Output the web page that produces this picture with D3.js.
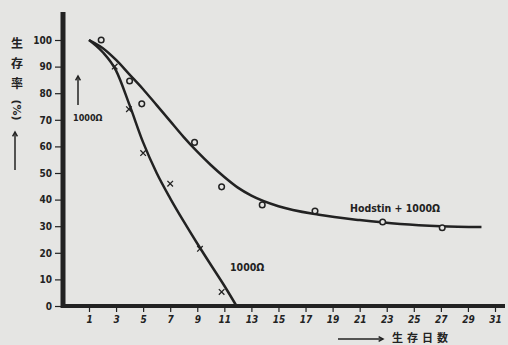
<!DOCTYPE html>
<html>
<head>
<meta charset="utf-8">
<script src="https://cdn.jsdelivr.net/npm/d3@7"></script>
<style>
  html, body { margin: 0; padding: 0; background: #e5e5e3; }
  svg { display: block; }
  text { fill: #222; }
</style>
</head>
<body>
<div id="app"></div>
<script>
const WIDTH = 508;
const HEIGHT = 345;
const INK = '#222';

// x ticks (days) and y ticks (%)
const xTicks = [1, 3, 5, 7, 9, 11, 13, 15, 17, 19, 21, 23, 25, 27, 29, 31];
const yTicks = [0, 10, 20, 30, 40, 50, 60, 70, 80, 90, 100];

// Hodstin + 1000Ω : observed points (circles) and drawn curve
const hodstinPoints = [[1.9, 100], [4, 84.6], [4.9, 76], [8.8, 61.5], [10.8, 44.8], [13.8, 38], [17.7, 35.7], [22.7, 31.6], [27.1, 29.4]];
const hodstinCurve = [[1, 100], [2, 97], [3, 92.5], [4, 87], [5, 81.5], [6, 75.5], [7, 69.5], [8, 63.5], [9, 58], [10, 53], [11, 48.5], [12, 44.5], [13, 41.5], [15, 37.5], [18, 34.3], [21, 32.3], [24, 30.8], [27, 30], [30, 29.7]];

// 1000Ω : observed points (crosses) and drawn curve
const ohmPoints = [[2.9, 90], [3.95, 74], [5, 57.5], [7, 46], [9.2, 21.5], [10.8, 5.3]];
const ohmCurve = [[1, 100], [2, 95.5], [3, 88.5], [4, 75.5], [5, 61.5], [6, 50], [7, 40.5], [8, 31.8], [9, 23.5], [10, 15.5], [11, 7.6], [11.9, 0]];

const svg = d3.select('#app')
  .append('svg')
  .attr('width', WIDTH)
  .attr('height', HEIGHT);

const x = d3.scaleLinear().domain([1, 31]).range([89, 495]);
const y = d3.scaleLinear().domain([0, 100]).range([306, 40]);

const tickFont = 'bold 10px "DejaVu Sans Condensed", "DejaVu Sans", sans-serif';

// axes
const yAxis = svg.append('g')
  .attr('transform', `translate(63,0)`)
  .call(d3.axisLeft(y).tickValues(yTicks).tickSize(8).tickPadding(3));
yAxis.select('.domain').remove();
yAxis.selectAll('line').attr('stroke', INK).attr('stroke-width', 1.2);
yAxis.selectAll('text')
  .attr('fill', INK)
  .style('font', tickFont);

const xAxis = svg.append('g')
  .attr('transform', `translate(0,306)`)
  .call(d3.axisBottom(x).tickValues(xTicks).tickSize(6).tickPadding(4));
xAxis.select('.domain').remove();
xAxis.selectAll('line').attr('stroke', INK).attr('stroke-width', 1.2);
xAxis.selectAll('text')
  .attr('fill', INK)
  .style('font', 'italic ' + tickFont);

// thick axis lines
svg.append('line')
  .attr('x1', 63).attr('x2', 63).attr('y1', 12).attr('y2', 308)
  .attr('stroke', INK).attr('stroke-width', 5);
svg.append('line')
  .attr('x1', 61).attr('x2', 505).attr('y1', 306).attr('y2', 306)
  .attr('stroke', INK).attr('stroke-width', 4);

// curves
const line = d3.line()
  .x(d => x(d[0]))
  .y(d => y(d[1]))
  .curve(d3.curveMonotoneX);

svg.append('path')
  .datum(hodstinCurve)
  .attr('d', line)
  .attr('fill', 'none')
  .attr('stroke', INK)
  .attr('stroke-width', 2.5);

svg.append('path')
  .datum(ohmCurve)
  .attr('d', line)
  .attr('fill', 'none')
  .attr('stroke', INK)
  .attr('stroke-width', 2.5);

// markers
svg.append('g').selectAll('circle')
  .data(hodstinPoints)
  .join('circle')
  .attr('cx', d => x(d[0]))
  .attr('cy', d => y(d[1]))
  .attr('r', 2.8)
  .attr('fill', '#e5e5e3')
  .attr('stroke', INK)
  .attr('stroke-width', 1.5);

const cross = d3.symbol().type(d3.symbolX).size(22);
svg.append('g').selectAll('path')
  .data(ohmPoints)
  .join('path')
  .attr('transform', d => `translate(${x(d[0])},${y(d[1])})`)
  .attr('d', cross)
  .attr('fill', 'none')
  .attr('stroke', INK)
  .attr('stroke-width', 1.3);

// arrows
function arrow(x1, y1, x2, y2) {
  const g = svg.append('g').attr('stroke', INK).attr('stroke-width', 1.5).attr('fill', 'none');
  g.append('line').attr('x1', x1).attr('y1', y1).attr('x2', x2).attr('y2', y2);
  const a = Math.atan2(y2 - y1, x2 - x1);
  const h = 5;
  g.append('path').attr('d',
    `M${x2 - h * Math.cos(a - 0.5)},${y2 - h * Math.sin(a - 0.5)}L${x2},${y2}L${x2 - h * Math.cos(a + 0.5)},${y2 - h * Math.sin(a + 0.5)}`);
}

// y axis title
const titleFont = '"Noto Sans CJK JP", "Noto Sans CJK SC", sans-serif';
['生', '存', '率'].forEach((c, i) => {
  svg.append('text')
    .attr('x', 17).attr('y', 48 + i * 20)
    .attr('text-anchor', 'middle')
    .style('font', `bold 12px ${titleFont}`)
    .text(c);
});
svg.append('text')
  .attr('transform', 'translate(13,110) rotate(90)')
  .attr('text-anchor', 'middle')
  .style('font', 'bold 11px "DejaVu Sans", sans-serif')
  .text('(%)');
arrow(15, 170, 15, 132);

// 1000Ω note at the top
arrow(78, 105, 78, 76);
svg.append('text')
  .attr('x', 73).attr('y', 121)
  .style('font', 'bold 9px "DejaVu Sans Condensed", "DejaVu Sans", sans-serif')
  .text('1000Ω');

// series labels
svg.append('text')
  .attr('x', 350).attr('y', 212)
  .style('font', 'bold 10.5px "DejaVu Sans Condensed", "DejaVu Sans", sans-serif')
  .text('Hodstin + 1000Ω');

svg.append('text')
  .attr('x', 230).attr('y', 271)
  .style('font', 'bold 10.5px "DejaVu Sans Condensed", "DejaVu Sans", sans-serif')
  .text('1000Ω');

// x axis title
arrow(338, 339, 383, 339);
svg.append('text')
  .attr('x', 392).attr('y', 342)
  .attr('letter-spacing', 4)
  .style('font', `bold 11px ${titleFont}`)
  .text('生存日数');
</script>
</body>
</html>
